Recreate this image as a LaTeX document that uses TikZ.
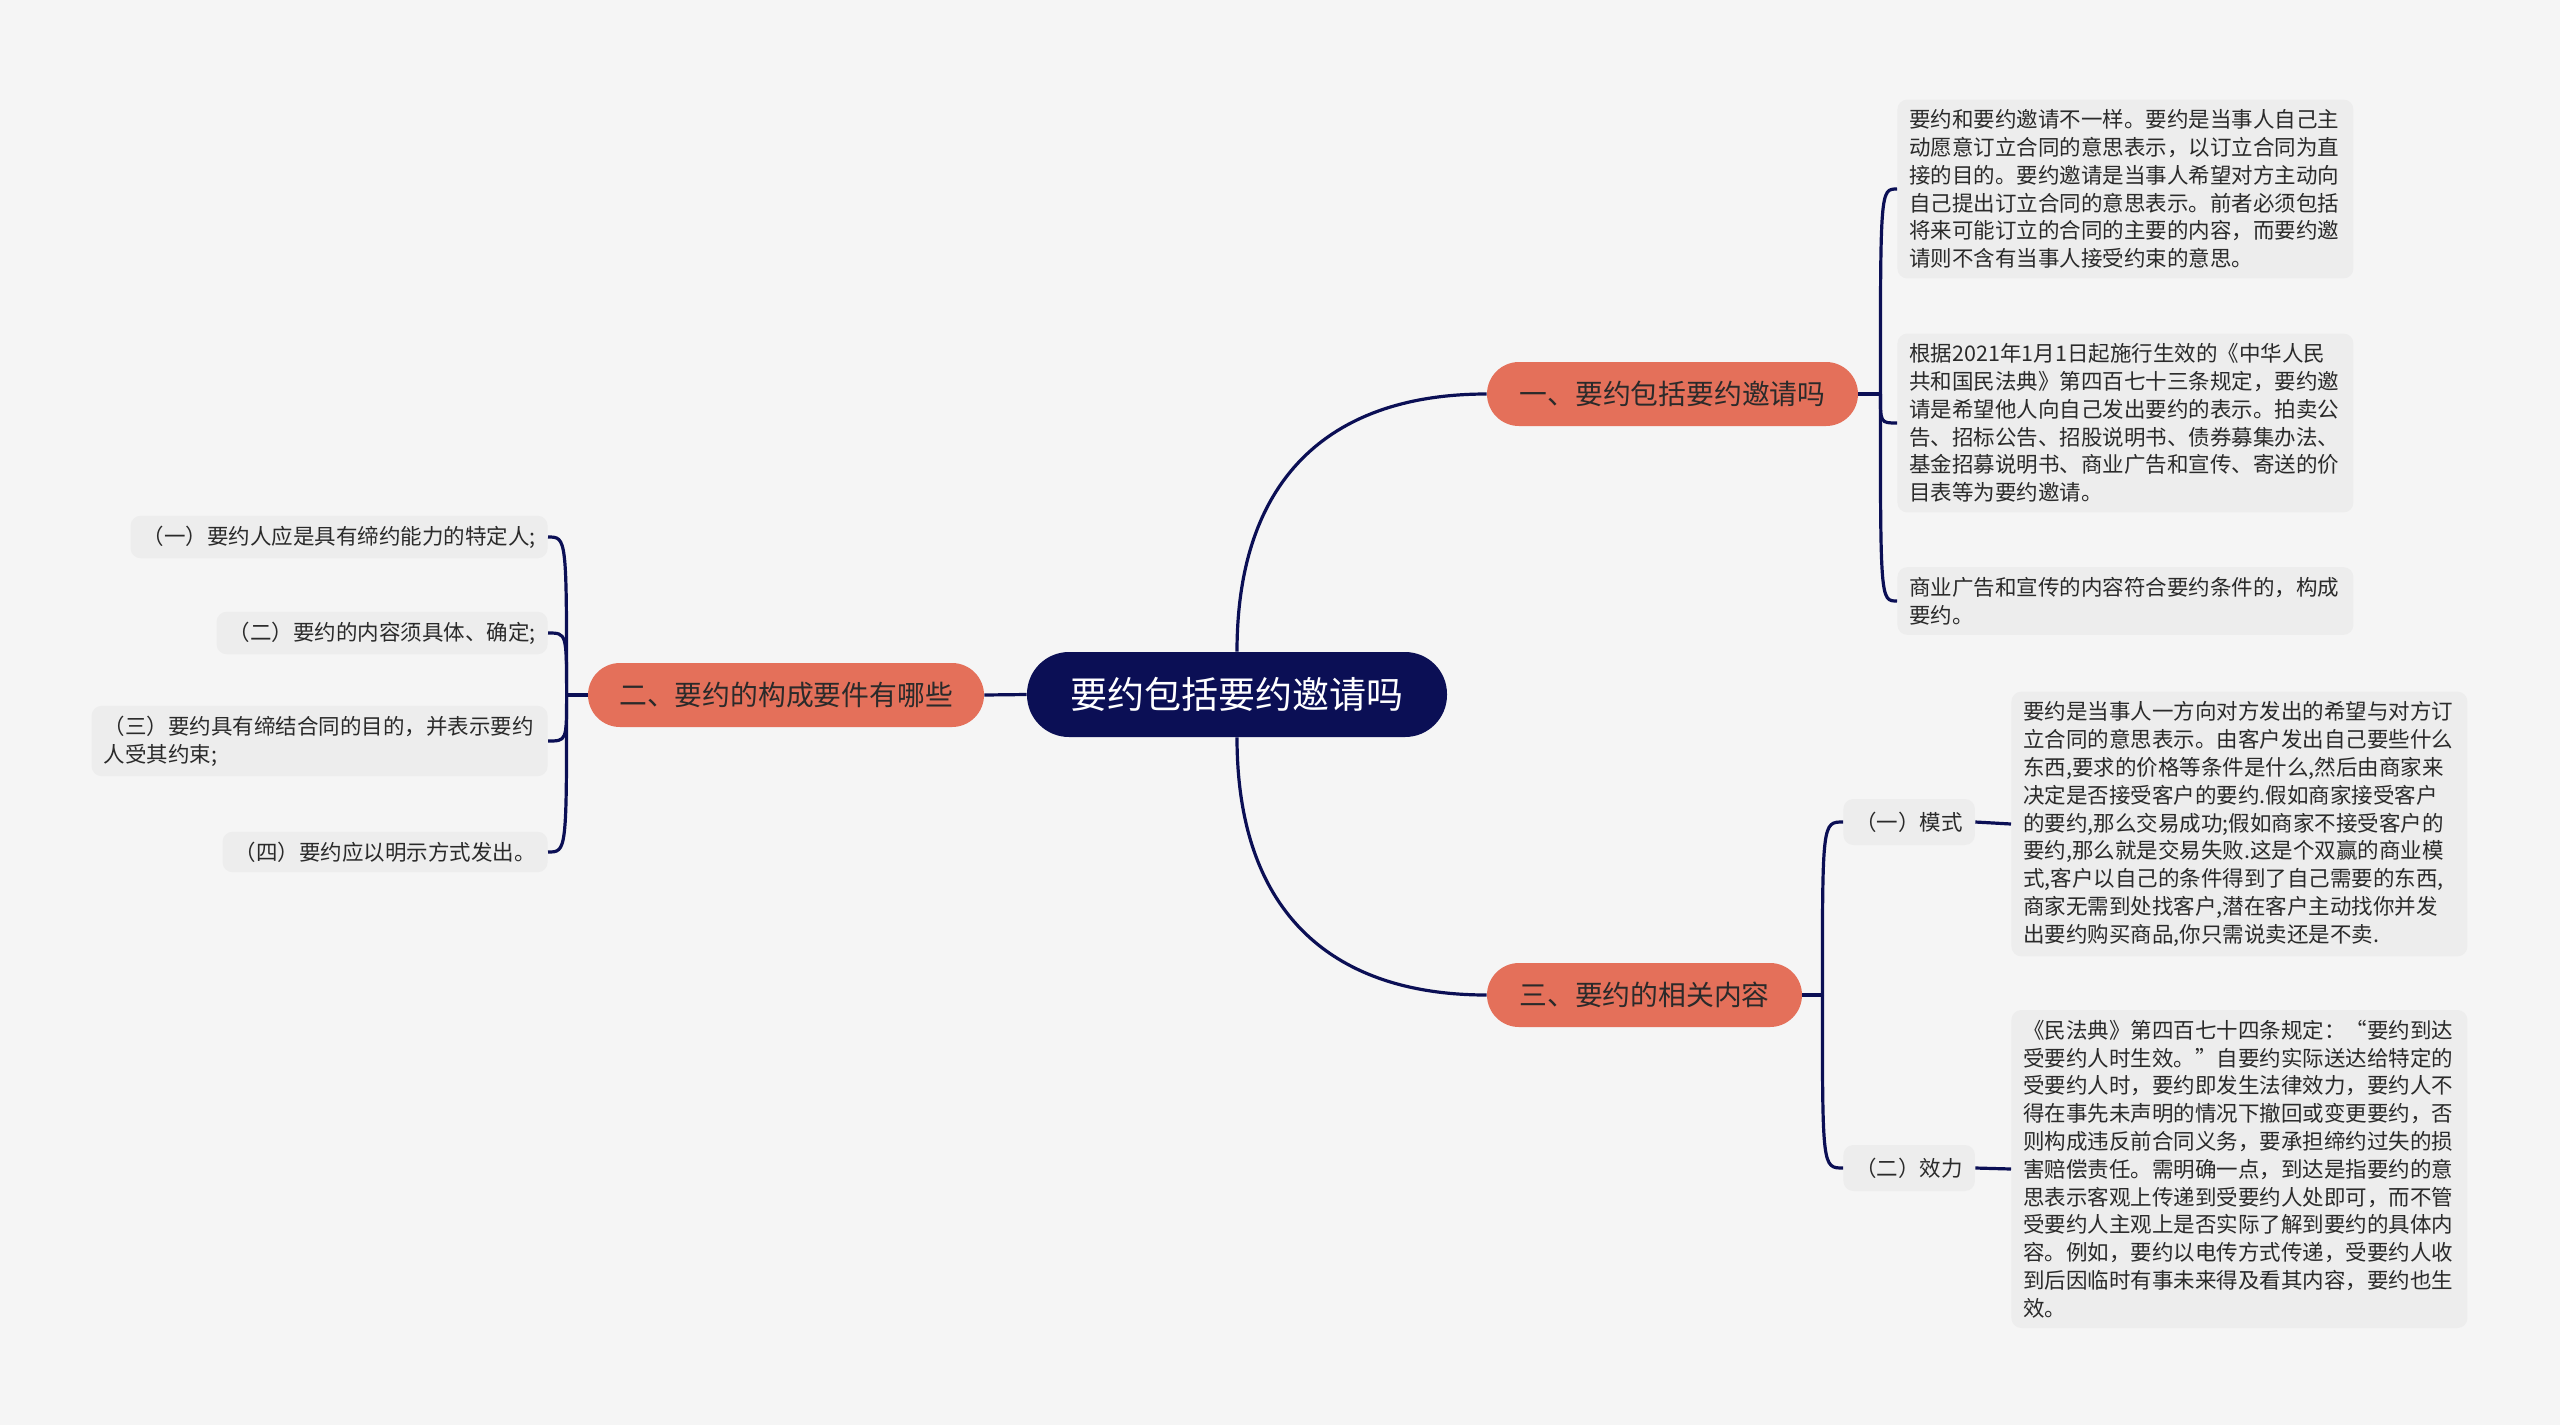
\documentclass[tikz,border=0pt]{standalone}
\usepackage{fontspec}
\setmainfont{Noto Sans CJK SC}
\usetikzlibrary{positioning}
\definecolor{navy}{HTML}{0B0F55}
\definecolor{salmon}{HTML}{E4705A}
\definecolor{leafgray}{HTML}{EDEDED}
\definecolor{canvas}{HTML}{F5F5F5}
\definecolor{ink}{HTML}{2A2A2A}
\tikzset{
    rootnode/.style={fill=navy, text=white, rounded corners=21pt, inner sep=0pt,
        font=\fontsize{18.5pt}{22pt}\selectfont},
    topic/.style={fill=salmon, text=ink, rounded corners=16pt, inner sep=0pt,
        minimum height=32pt, font=\fontsize{13.9pt}{16pt}\selectfont},
    leaf/.style={fill=leafgray, text=ink, rounded corners=5pt, inner xsep=6pt,
        inner ysep=5pt, align=left, font=\fontsize{10.75pt}{13.9pt}\selectfont},
    wide/.style={text width=216pt},
    conn/.style={draw=navy, line width=1.6pt},
}

\begin{document}
\begin{tikzpicture}[x=0.5pt, y=-0.5pt]

    % Canvas
    \fill[canvas] (0,0) rectangle (2560,1425);

    % Root
    \node[rootnode, minimum width=210pt, minimum height=42.5pt] (root) at (1237,694.5) {要约包括要约邀请吗};

    % Topics
    \node[topic, minimum width=185.5pt] (t1) at (1672.5,394) {一、要约包括要约邀请吗};
    \node[topic, minimum width=198pt] (t2) at (786,695) {二、要约的构成要件有哪些};
    \node[topic, minimum width=157.5pt] (t3) at (1644.5,995) {三、要约的相关内容};

    % Details of topic one
    \node[leaf, wide, anchor=west] (d1) at (1897,189) {要约和要约邀请不一样。要约是当事人自己主\\动愿意订立合同的意思表示，以订立合同为直\\接的目的。要约邀请是当事人希望对方主动向\\自己提出订立合同的意思表示。前者必须包括\\将来可能订立的合同的主要的内容，而要约邀\\请则不含有当事人接受约束的意思。};
    \node[leaf, wide, anchor=west] (d2) at (1897,423) {根据2021年1月1日起施行生效的《中华人民\\共和国民法典》第四百七十三条规定，要约邀\\请是希望他人向自己发出要约的表示。拍卖公\\告、招标公告、招股说明书、债券募集办法、\\基金招募说明书、商业广告和宣传、寄送的价\\目表等为要约邀请。};
    \node[leaf, wide, anchor=west] (d3) at (1897,601) {商业广告和宣传的内容符合要约条件的，构成\\要约。};

    % Details of topic two
    \node[leaf, anchor=east] (e1) at (548,537) {（一）要约人应是具有缔约能力的特定人;};
    \node[leaf, anchor=east] (e2) at (548,633) {（二）要约的内容须具体、确定;};
    \node[leaf, wide, anchor=east] (e3) at (548,741) {（三）要约具有缔结合同的目的，并表示要约\\人受其约束;};
    \node[leaf, anchor=east] (e4) at (548,852) {（四）要约应以明示方式发出。};

    % Details of topic three
    \node[leaf, minimum height=23pt, anchor=west] (s1) at (1843,822) {（一）模式};
    \node[leaf, minimum height=23pt, anchor=west] (s2) at (1843,1168) {（二）效力};
    \node[leaf, wide, anchor=west] (f1) at (2011,824) {要约是当事人一方向对方发出的希望与对方订\\立合同的意思表示。由客户发出自己要些什么\\东西,要求的价格等条件是什么,然后由商家来\\决定是否接受客户的要约.假如商家接受客户\\的要约,那么交易成功;假如商家不接受客户的\\要约,那么就是交易失败.这是个双赢的商业模\\式,客户以自己的条件得到了自己需要的东西,\\商家无需到处找客户,潜在客户主动找你并发\\出要约购买商品,你只需说卖还是不卖.};
    \node[leaf, wide, anchor=west] (f2) at (2011,1169) {《民法典》第四百七十四条规定：“要约到达\\受要约人时生效。”自要约实际送达给特定的\\受要约人时，要约即发生法律效力，要约人不\\得在事先未声明的情况下撤回或变更要约，否\\则构成违反前合同义务，要承担缔约过失的损\\害赔偿责任。需明确一点，到达是指要约的意\\思表示客观上传递到受要约人处即可，而不管\\受要约人主观上是否实际了解到要约的具体内\\容。例如，要约以电传方式传递，受要约人收\\到后因临时有事未来得及看其内容，要约也生\\效。};

    % Root to topics
    \draw[conn] (root.north) .. controls +(0,-180) and +(-150,0) .. (t1.west);
    \draw[conn] (root.south) .. controls +(0,180) and +(-150,0) .. (t3.west);
    \draw[conn] (root.west) -- (t2.east);

    % Brackets
    \coordinate[right=11pt of t1.east] (j1);
    \coordinate[left=10.5pt of t2.west] (j2);
    \coordinate[right=10pt of t3.east] (j3);
    \draw[conn] (t1.east) -- (j1);
    \draw[conn] (t2.west) -- (j2);
    \draw[conn] (t3.east) -- (j3);
    \foreach \d in {d1,d2,d3} {
        \draw[conn] (j1) .. controls (j1 |- \d.west) .. (\d.west);
    }
    \foreach \e in {e1,e2,e3,e4} {
        \draw[conn] (j2) .. controls (j2 |- \e.east) .. (\e.east);
    }
    \foreach \s in {s1,s2} {
        \draw[conn] (j3) .. controls (j3 |- \s.west) .. (\s.west);
    }
    \draw[conn] (s1.east) -- (f1.west);
    \draw[conn] (s2.east) -- (f2.west);
\end{tikzpicture}
\end{document}
